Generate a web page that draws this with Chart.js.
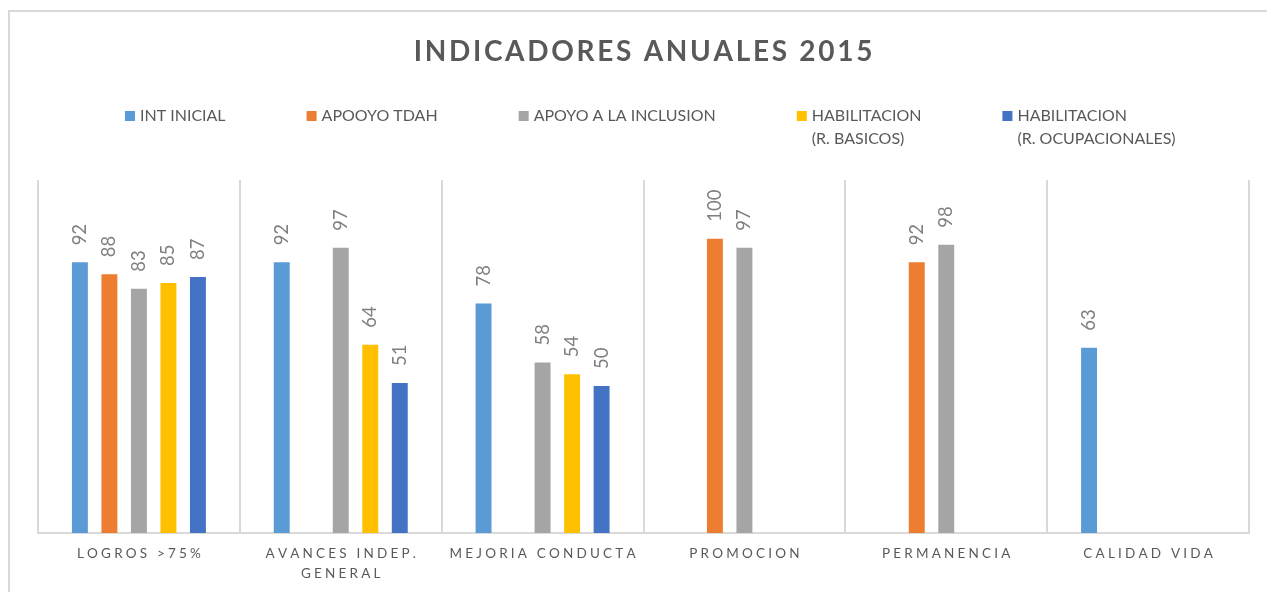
<!DOCTYPE html>
<html>
<head>
<meta charset="utf-8">
<script src="https://cdn.jsdelivr.net/npm/chart.js@4"></script>
<style>
  html, body { margin: 0; padding: 0; background: #ffffff; }
  #wrap { width: 1267px; height: 592px; position: relative; }
</style>
</head>
<body>
<div id="wrap"><canvas id="c" width="1267" height="592"></canvas></div>
<script>
// ---- data ----
const chartTitle = 'INDICADORES ANUALES 2015';
const categories = [
  ['LOGROS >75%'],
  ['AVANCES INDEP.', 'GENERAL'],
  ['MEJORIA CONDUCTA'],
  ['PROMOCION'],
  ['PERMANENCIA'],
  ['CALIDAD VIDA']
];
const seriesNames = [
  ['INT INICIAL'],
  ['APOOYO TDAH'],
  ['APOYO A LA INCLUSION'],
  ['HABILITACION', '(R. BASICOS)'],
  ['HABILITACION', '(R. OCUPACIONALES)']
];
const intInicial       = [92, 92, 78, null, null, 63];
const apoyoTdah        = [88, null, null, 100, 92, null];
const apoyoInclusion   = [83, 97, 58, 97, 98, null];
const habBasicos       = [85, 64, 54, null, null, null];
const habOcupacionales = [87, 51, 50, null, null, null];
const seriesValues = [intInicial, apoyoTdah, apoyoInclusion, habBasicos, habOcupacionales];
const seriesColors = ['#5B9BD5', '#ED7D31', '#A5A5A5', '#FFC000', '#4472C4'];
const yMin = 0, yMax = 120;

// ---- helpers ----
const FONT = 'Lato, "Open Sans", "Liberation Sans", sans-serif';
function spacedText(ctx, text, x, y, spacing, align) {
  const chars = Array.from(text);
  const widths = chars.map(ch => ctx.measureText(ch).width);
  const total = widths.reduce((a, b) => a + b, 0) + spacing * (chars.length - 1);
  let cx = align === 'center' ? x - total / 2 : x;
  const prevAlign = ctx.textAlign;
  ctx.textAlign = 'left';
  chars.forEach((ch, i) => { ctx.fillText(ch, cx, y); cx += widths[i] + spacing; });
  ctx.textAlign = prevAlign;
  return total;
}

const decorPlugin = {
  id: 'decor',
  beforeDraw(chart) {
    const ctx = chart.ctx;
    ctx.save();
    ctx.fillStyle = '#ffffff';
    ctx.fillRect(0, 0, chart.width, chart.height);
    ctx.strokeStyle = '#d9d9d9';
    ctx.lineWidth = 2;
    ctx.beginPath();
    ctx.moveTo(9, chart.height + 5);
    ctx.lineTo(9, 11);
    ctx.lineTo(chart.width + 5, 11);
    ctx.stroke();
    ctx.restore();
  },
  afterDraw(chart) {
    const ctx = chart.ctx;
    ctx.save();
    // title
    ctx.fillStyle = '#595959';
    ctx.font = 'bold 28px ' + FONT;
    ctx.textBaseline = 'middle';
    spacedText(ctx, chartTitle, 643, 52, 2.7, 'center');

    // legend
    ctx.font = '16px ' + FONT;
    const gap = 81, box = 10, boxGap = 5;
    const widths = seriesNames.map(lines => ctx.measureText(lines[0]).width);
    const total = widths.reduce((a, w) => a + box + boxGap + w, 0) + gap * (widths.length - 1);
    let lx = 626 - total / 2;
    const ly = 116, lh = 23;
    seriesNames.forEach((lines, i) => {
      ctx.fillStyle = seriesColors[i];
      ctx.fillRect(lx, ly - box / 2, box, box);
      ctx.fillStyle = '#595959';
      ctx.textAlign = 'left';
      lines.forEach((t, j) => ctx.fillText(t, lx + box + boxGap, ly + j * lh));
      lx += box + boxGap + widths[i] + gap;
    });

    // x category labels
    const xs = chart.scales.x;
    ctx.font = '13.5px ' + FONT;
    ctx.fillStyle = '#595959';
    categories.forEach((lines, i) => {
      const px = xs.getPixelForValue(i);
      lines.forEach((t, j) => spacedText(ctx, t, px, xs.bottom + 21 + j * 20, 3.2, 'center'));
    });
    ctx.restore();
  },
  afterDatasetsDraw(chart) {
    const ctx = chart.ctx;
    ctx.save();
    ctx.font = '18.5px ' + FONT;
    ctx.fillStyle = '#7f7f7f';
    ctx.textAlign = 'left';
    ctx.textBaseline = 'middle';
    chart.data.datasets.forEach((ds, di) => {
      const meta = chart.getDatasetMeta(di);
      meta.data.forEach((el, i) => {
        const v = ds.data[i];
        if (v === null || v === undefined) return;
        ctx.save();
        ctx.translate(el.x, el.y - 17);
        ctx.rotate(-Math.PI / 2);
        ctx.fillText(String(v), 0, 0);
        ctx.restore();
      });
    });
    ctx.restore();
  }
};

new Chart(document.getElementById('c'), {
  type: 'bar',
  data: {
    labels: categories,
    datasets: seriesValues.map((vals, i) => ({
      label: seriesNames[i].join(' '),
      data: vals,
      backgroundColor: seriesColors[i],
      borderWidth: 0,
      categoryPercentage: 0.731,
      barPercentage: 0.54
    }))
  },
  options: {
    responsive: false,
    animation: false,
    events: [],
    layout: { padding: { top: 180, bottom: 59, left: 38, right: 18 } },
    plugins: {
      legend: { display: false },
      title: { display: false },
      tooltip: { enabled: false }
    },
    scales: {
      x: {
        offset: true,
        grid: { display: true, offset: true, color: '#d9d9d9', lineWidth: 2, drawTicks: false },
        border: { display: true, color: '#d9d9d9', width: 2 },
        ticks: { display: false }
      },
      y: {
        display: false,
        min: yMin,
        max: yMax
      }
    }
  },
  plugins: [decorPlugin]
});
</script>
</body>
</html>
